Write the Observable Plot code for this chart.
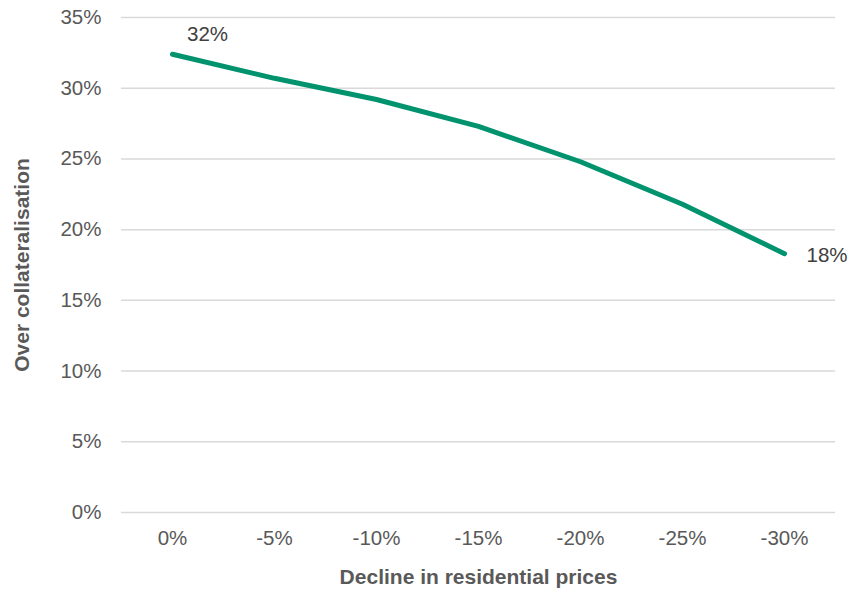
<!DOCTYPE html>
<html>
<head>
<meta charset="utf-8">
<script src="https://cdn.jsdelivr.net/npm/d3@7"></script>
<script src="https://cdn.jsdelivr.net/npm/@observablehq/plot@0.6"></script>
<style>
  html, body { margin: 0; padding: 0; background: #fff; }
  #chart { width: 852px; height: 591px; }
</style>
</head>
<body>
<div id="chart"></div>
<script>
const categories = ["0%", "-5%", "-10%", "-15%", "-20%", "-25%", "-30%"];
const overCollat = [32.4, 30.7, 29.2, 27.3, 24.8, 21.8, 18.3];
const yTicks = [0, 5, 10, 15, 20, 25, 30, 35];
const endLabels = [
  {idx: 0, text: "32%"},
  {idx: 6, text: "18%"}
];

const data = categories.map((c, i) => ({cat: c, v: overCollat[i]}));
const font = "Liberation Sans, Arial, sans-serif";
const textColor = "#595959";
const fs = 20.5;

const plot = Plot.plot({
  width: 852,
  height: 591,
  marginLeft: 121,
  marginRight: 17,
  marginTop: 17,
  marginBottom: 79,
  style: {fontFamily: font, fontSize: fs + "px", color: textColor, background: "#fff"},
  x: {type: "point", domain: categories, padding: 0.5, label: null},
  y: {domain: [0, 35], label: null},
  marks: [
    Plot.ruleY(yTicks, {stroke: "#d9d9d9", strokeWidth: 1.5}),
    Plot.axisY(yTicks, {tickSize: 0, tickPadding: 20, tickFormat: d => d + "%", fill: textColor, fontSize: fs, label: null}),
    Plot.axisX({tickSize: 0, tickPadding: 18, fill: textColor, fontSize: fs, label: null}),
    Plot.line(data, {x: "cat", y: "v", stroke: "#00936e", strokeWidth: 5, strokeLinecap: "round", strokeLinejoin: "round"}),
    Plot.text([endLabels[0]], {x: d => categories[d.idx], y: d => overCollat[d.idx], text: "text", dx: 35, dy: -20, fill: "#404040", fontSize: fs}),
    Plot.text([endLabels[1]], {x: d => categories[d.idx], y: d => overCollat[d.idx], text: "text", dx: 22, dy: 2, textAnchor: "start", fill: "#404040", fontSize: fs}),
    Plot.text(["Decline in residential prices"], {frameAnchor: "bottom", dy: 71, fontWeight: "bold", fill: textColor, fontSize: 21}),
    Plot.text(["Over collateralisation"], {frameAnchor: "left", textAnchor: "middle", dx: -99, rotate: -90, fontWeight: "bold", fill: textColor, fontSize: 21})
  ]
});
document.getElementById("chart").appendChild(plot);
</script>
</body>
</html>
